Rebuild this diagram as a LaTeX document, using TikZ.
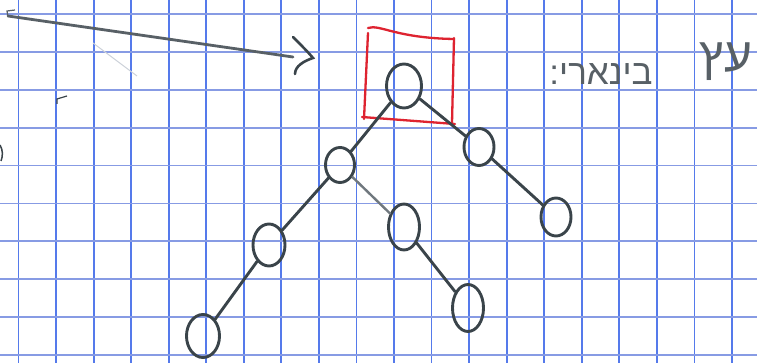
\documentclass[tikz,border=0pt]{standalone}
\usepackage{fontspec}
\usetikzlibrary{shapes.geometric}
\newfontfamily\hebfont[Script=Hebrew]{Liberation Sans}
\TeXXeTstate=1
\definecolor{vgrid}{RGB}{85,122,235}
\definecolor{hgrid}{RGB}{135,155,228}
\definecolor{pencil}{RGB}{58,68,74}
\definecolor{pencilmid}{RGB}{88,96,102}
\definecolor{pencillight}{RGB}{112,120,126}
\definecolor{redpen}{RGB}{222,35,48}
\definecolor{faint}{RGB}{205,210,218}
\tikzset{
  vline/.style={draw=vgrid, line width=1.8pt},
  hline/.style={draw=hgrid, line width=1.8pt},
  treenode/.style={ellipse, draw=pencil, line width=2.9pt, inner sep=0pt},
  edge/.style={draw=pencil, line width=2.9pt, line cap=round},
  edgelight/.style={draw=pencillight, line width=2.4pt, line cap=round},
  handtext/.style={text=pencilmid, inner sep=0pt}
}
\begin{document}
\begin{tikzpicture}[x=1pt,y=-1pt]
\useasboundingbox (0,0) rectangle (757,363);
\fill[white] (0,0) rectangle (757,363);
% grid
\foreach \k in {0,...,19} \draw[vline] ({18.5+37.55*\k},0) -- ++(0,363);
\foreach \k in {0,...,9} \draw[hline] (0,{14+37.9*\k}) -- ++(757,0);
% stray marks
\draw[faint, line width=1pt] (93,43) -- (137,76);
\draw[pencil, line width=1.2pt] (57,104) -- (57,99) -- (67,96);
\draw[pencil, line width=1.5pt] (0,145) .. controls (3,150) and (3,156) .. (1,161);
% arrow
\coordinate (as) at (8,16);
\coordinate (ae) at (293,57);
\draw[pencilmid, line width=2.8pt, line cap=round] (as) -- (ae);
\draw[pencilmid, line width=1.2pt] (8,17) -- (7,11) -- (15,10);
\draw[pencil, line width=2.6pt, line cap=round] (293,37) .. controls (300,44) and (308,52) .. (313,58) .. controls (304,61) and (295,66) .. (295,74);
% red box
\draw[redpen, line width=2.3pt, line cap=round] (368,28) .. controls (380,24) and (395,38) .. (454,39);
\draw[redpen, line width=2.3pt, line cap=round] (368,33) -- (364,119);
\draw[redpen, line width=2.3pt, line cap=round] (362,117) -- (455,124);
\draw[redpen, line width=2.3pt, line cap=round] (454,38) -- (452,123);
% tree nodes
\node[treenode, minimum width=35pt, minimum height=44pt] (r) at (404,86) {};
\node[treenode, minimum width=29pt, minimum height=35pt] (a) at (340,165) {};
\node[treenode, minimum width=30pt, minimum height=37pt] (b) at (479,147) {};
\node[treenode, minimum width=32pt, minimum height=42pt] (c) at (269,245) {};
\node[treenode, minimum width=31pt, minimum height=46pt] (d) at (404,227) {};
\node[treenode, minimum width=30pt, minimum height=38pt] (e) at (556,217) {};
\node[treenode, minimum width=33pt, minimum height=43pt] (f) at (203,336) {};
\node[treenode, minimum width=31pt, minimum height=47pt] (g) at (468,308) {};
% connectors
\draw[edge] (r) -- (a);
\draw[edge] (r) -- (b);
\draw[edge] (a) -- (c);
\draw[edgelight] (a) -- (d);
\draw[edge] (b) -- (e);
\draw[edge] (c) -- (f);
\draw[edge] (d) -- (g);
% title
\node[handtext, font=\hebfont\fontsize{48}{48}\selectfont] (t1) at (726,62) {\beginR עץ\endR};
\node[handtext, font=\hebfont\fontsize{35}{35}\selectfont] (t2) at (601,74) {\beginR בינארי:\endR};
\end{tikzpicture}
\end{document}
